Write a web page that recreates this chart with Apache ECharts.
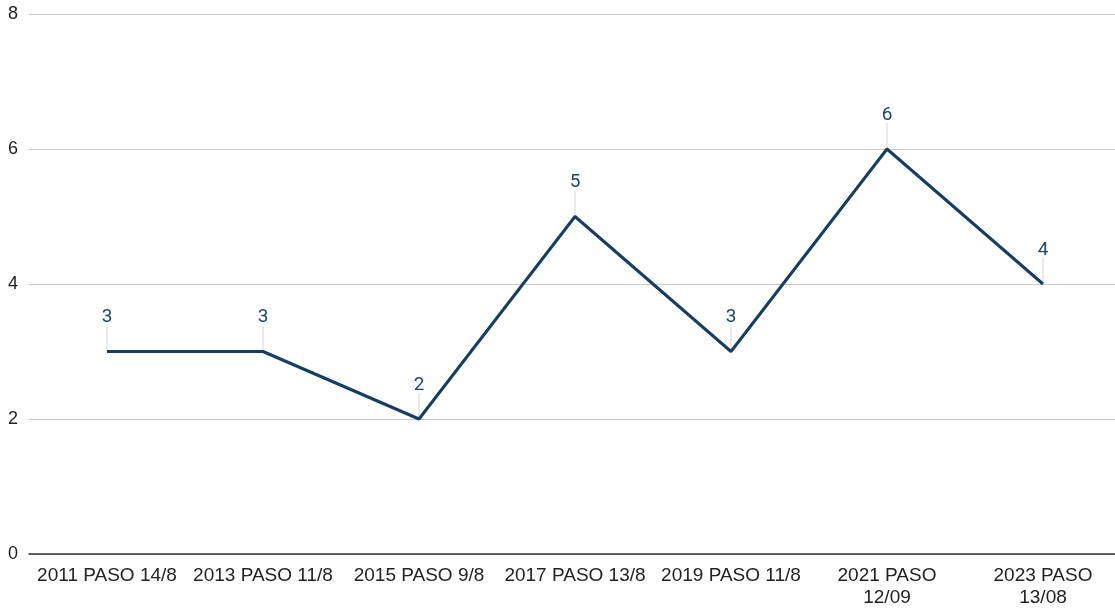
<!DOCTYPE html>
<html><head><meta charset="utf-8">
<script src="https://cdn.jsdelivr.net/npm/echarts@6/dist/echarts.min.js"></script>
<style>html,body{margin:0;padding:0;background:#fff;overflow:hidden;width:1115px;height:609px}#c{width:1125px;height:609px}</style>
</head><body><div id="c"></div>
<script>
var categories = ['2011 PASO 14/8','2013 PASO 11/8','2015 PASO 9/8','2017 PASO 13/8','2019 PASO 11/8','2021 PASO 12/09','2023 PASO 13/08'];
var values = [3,3,2,5,3,6,4];
var yTicks = [0,2,4,6,8];

var chart = echarts.init(document.getElementById('c'));
chart.setOption({
  animation:false,
  grid:{left:29,right:4,top:14,bottom:55},
  xAxis:{type:'category',data:categories,boundaryGap:true,
    axisLine:{lineStyle:{color:'#333',width:1.5}},axisTick:{show:false},
    axisLabel:{color:'#222',fontFamily:'Liberation Sans, Arial',fontSize:19,margin:11,interval:0,lineHeight:22,
      formatter:function(v){return v.length>14? v.replace(/ (\S+)$/,'\n$1'):v;}}},
  yAxis:{type:'value',min:0,max:8,interval:2,
    axisLine:{show:false},axisTick:{show:false},
    splitLine:{lineStyle:{color:'#c8c8c8',width:1}},
    axisLabel:{color:'#222',fontFamily:'Liberation Sans, Arial',fontSize:18,margin:11,
      formatter:function(v){return yTicks.indexOf(v)>=0?String(v):'';}}},
  series:[
    {type:'custom',z:1,data:values.map(function(v,i){return [i,v];}),
      renderItem:function(params,api){
        var p=api.coord([api.value(0),api.value(1)]);
        return {type:'group',children:[
          {type:'line',shape:{x1:p[0],y1:p[1],x2:p[0],y2:p[1]-26},style:{stroke:'#e3e3e3',lineWidth:1.5}},
          {type:'text',x:p[0],y:p[1]-34,style:{text:String(api.value(1)),fill:'#1c4670',fontSize:19,fontFamily:'Roboto',align:'center',verticalAlign:'middle'}}
        ]};
      }},
    {type:'line',z:3,data:values,symbol:'none',
      lineStyle:{color:'#173d63',width:3}}
  ]
});
</script></body></html>
